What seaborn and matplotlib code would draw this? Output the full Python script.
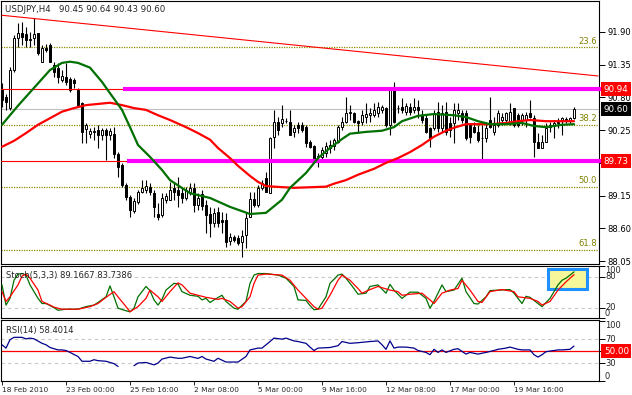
import numpy as np
import seaborn as sns
import matplotlib
matplotlib.use("Agg")
import matplotlib.pyplot as plt
import matplotlib.patches as patches
import matplotlib.transforms as mtransforms

# USDJPY H4 bars, 18 Feb - 22 Mar 2010
opens = [90.93, 90.80, 90.62, 91.26, 91.80, 91.88, 91.87, 91.77, 91.80, 91.88,
         91.40, 91.63, 91.68, 91.35, 91.29, 91.09, 91.14, 91.11, 91.09, 90.93,
         90.71, 90.27, 90.19, 90.22, 90.26, 90.17, 90.26, 90.17, 90.19, 89.85,
         89.66, 89.33, 89.13, 88.89, 89.04, 89.21, 89.25, 89.30, 89.20, 88.84,
         88.82, 89.08, 89.08, 89.28, 89.25, 89.19, 89.11, 89.21, 89.28, 88.99,
         89.18, 88.99, 88.84, 88.69, 88.87, 88.74, 88.74, 88.39, 88.46, 88.44,
         88.37, 88.49, 88.79, 89.09, 88.99, 89.28, 89.45, 89.19, 90.14, 90.39,
         90.37, 90.41, 90.39, 90.22, 90.34, 90.34, 90.30, 90.05, 89.99, 89.79,
         89.80, 89.87, 89.95, 89.99, 90.05, 90.30, 90.39, 90.54, 90.54, 90.41,
         90.39, 90.47, 90.51, 90.51, 90.54, 90.59, 90.62, 90.34, 90.93, 90.62,
         90.64, 90.56, 90.64, 90.59, 90.64, 90.51, 90.46, 90.29, 90.29, 90.56,
         90.29, 90.56, 90.37, 90.37, 90.54, 90.54, 90.54, 90.34, 90.30, 90.22,
         90.12, 90.12, 90.42, 90.22, 90.34, 90.42, 90.42, 90.39, 90.62, 90.51,
         90.42, 90.42, 90.54, 90.46, 90.05, 89.95, 90.05, 90.30, 90.34, 90.37,
         90.42, 90.44, 90.41, 90.45]
highs = [91.04, 90.85, 91.31, 91.85, 92.05, 92.07, 91.98, 91.90, 92.14, 91.88,
         91.68, 91.70, 91.72, 91.40, 91.38, 91.26, 91.38, 91.14, 91.13, 90.96,
         90.73, 90.37, 90.29, 90.30, 90.34, 90.29, 90.29, 90.29, 90.30, 89.88,
         89.70, 89.36, 89.16, 89.11, 89.24, 89.41, 89.41, 89.36, 89.24, 89.03,
         89.20, 89.20, 89.38, 89.36, 89.46, 89.28, 89.30, 89.36, 89.36, 89.20,
         89.24, 89.08, 88.96, 88.94, 88.96, 88.87, 88.86, 88.52, 88.49, 88.49,
         88.57, 88.86, 89.21, 89.21, 89.33, 89.41, 89.55, 90.14, 90.59, 90.47,
         90.67, 90.45, 90.59, 90.34, 90.39, 90.39, 90.34, 90.08, 90.00, 89.87,
         89.97, 90.05, 90.08, 90.12, 90.34, 90.47, 90.81, 90.67, 90.55, 90.42,
         90.59, 90.71, 90.62, 90.71, 90.72, 90.67, 90.64, 90.96, 91.06, 90.67,
         90.79, 90.71, 90.71, 90.79, 90.76, 90.59, 90.50, 90.30, 90.59, 90.72,
         90.67, 90.72, 90.47, 90.71, 90.71, 90.59, 90.59, 90.37, 90.39, 90.34,
         90.34, 90.37, 90.81, 90.47, 90.59, 90.54, 90.55, 90.71, 90.62, 90.54,
         90.54, 90.55, 90.76, 90.50, 90.20, 90.17, 90.37, 90.39, 90.42, 90.45,
         90.47, 90.47, 90.47, 90.64]
lows = [90.64, 90.59, 90.59, 91.23, 91.65, 91.68, 91.65, 91.65, 91.68, 91.51,
        91.40, 91.56, 91.40, 91.14, 91.04, 91.06, 91.01, 90.89, 90.96, 90.64,
        90.03, 90.03, 90.12, 90.08, 89.95, 90.08, 89.75, 90.08, 89.78, 89.47,
        89.30, 89.08, 88.79, 88.86, 89.01, 89.20, 89.20, 89.16, 88.79, 88.74,
        88.79, 89.03, 89.08, 89.08, 88.96, 89.03, 89.08, 89.16, 88.87, 88.91,
        88.91, 88.52, 88.46, 88.62, 88.62, 88.52, 88.29, 88.32, 88.37, 88.32,
        88.12, 88.27, 88.79, 88.96, 88.96, 89.24, 89.21, 89.19, 89.95, 90.17,
        90.30, 90.37, 90.17, 90.14, 90.20, 90.22, 89.97, 89.95, 89.70, 89.63,
        89.75, 89.80, 89.87, 89.92, 90.03, 90.25, 90.37, 90.42, 90.37, 90.20,
        90.34, 90.37, 90.39, 90.47, 90.47, 90.54, 90.30, 90.17, 90.37, 90.54,
        90.54, 90.50, 90.50, 90.54, 90.45, 90.37, 90.20, 89.97, 90.25, 90.22,
        90.22, 90.17, 90.14, 90.03, 90.42, 90.37, 90.08, 90.03, 90.20, 90.05,
        89.75, 90.05, 90.29, 90.17, 90.30, 90.34, 90.37, 90.34, 90.30, 90.30,
        90.34, 90.30, 90.45, 89.80, 89.95, 89.95, 90.05, 90.22, 90.12, 90.29,
        90.17, 90.37, 90.37, 90.43]
closes = [90.76, 90.73, 91.26, 91.80, 91.88, 91.82, 91.76, 91.78, 91.86, 91.55,
          91.63, 91.60, 91.40, 91.23, 91.14, 91.16, 91.06, 90.93, 91.04, 90.67,
          90.22, 90.34, 90.24, 90.24, 90.16, 90.26, 90.16, 90.24, 89.85, 89.63,
          89.33, 89.13, 88.91, 89.06, 89.21, 89.28, 89.31, 89.21, 88.96, 88.79,
          89.11, 89.14, 89.25, 89.21, 89.16, 89.11, 89.24, 89.28, 88.99, 89.11,
          88.98, 88.82, 88.69, 88.86, 88.69, 88.71, 88.37, 88.46, 88.41, 88.36,
          88.47, 88.78, 89.09, 88.99, 89.28, 89.36, 89.21, 90.12, 90.39, 90.25,
          90.44, 90.40, 90.17, 90.29, 90.29, 90.25, 90.03, 89.97, 89.75, 89.82,
          89.92, 89.99, 90.00, 90.08, 90.30, 90.39, 90.54, 90.56, 90.39, 90.37,
          90.51, 90.52, 90.54, 90.59, 90.64, 90.64, 90.34, 90.93, 90.39, 90.62,
          90.59, 90.66, 90.56, 90.64, 90.59, 90.42, 90.22, 90.12, 90.54, 90.29,
          90.54, 90.22, 90.25, 90.59, 90.59, 90.42, 90.12, 90.14, 90.22, 90.08,
          90.12, 90.29, 90.30, 90.34, 90.54, 90.47, 90.54, 90.56, 90.34, 90.34,
          90.51, 90.51, 90.47, 90.05, 89.95, 90.05, 90.29, 90.34, 90.37, 90.39,
          90.46, 90.41, 90.46, 90.60]

# moving averages (sampled along the curve)
ma_fast_idx = [0, 4, 8, 12, 15, 17, 19, 22, 25, 27, 30, 32, 34, 37, 40, 42, 47, 52, 57, 62,
               66, 70, 72, 76, 79, 82, 85, 87, 91, 95, 98, 100, 104, 108, 113, 116, 119, 122, 126, 130,
               133, 136, 140, 143]
ma_fast = [90.34, 90.66, 90.96, 91.26, 91.38, 91.40, 91.38, 91.30, 91.06, 90.87,
           90.59, 90.30, 90.00, 89.80, 89.58, 89.41, 89.19, 89.11, 88.96, 88.84,
           88.86, 89.08, 89.28, 89.53, 89.78, 89.95, 90.10, 90.19, 90.22, 90.24,
           90.30, 90.40, 90.49, 90.52, 90.50, 90.47, 90.40, 90.35, 90.35, 90.37,
           90.32, 90.30, 90.34, 90.35]
ma_slow_idx = [0, 3, 6, 9, 12, 15, 18, 21, 24, 27, 30, 33, 36, 39, 42, 46, 49, 52, 54, 57,
               59, 62, 64, 66, 68, 73, 81, 83, 86, 89, 93, 96, 99, 102, 105, 108, 111, 113, 116, 122,
               126, 129, 132, 136, 143]
ma_slow = [89.97, 90.07, 90.20, 90.34, 90.45, 90.56, 90.62, 90.67, 90.69, 90.71,
           90.67, 90.62, 90.59, 90.50, 90.42, 90.30, 90.20, 90.09, 89.95, 89.78,
           89.65, 89.48, 89.38, 89.31, 89.30, 89.28, 89.30, 89.35, 89.41, 89.50,
           89.60, 89.70, 89.78, 89.88, 90.00, 90.14, 90.24, 90.29, 90.35, 90.35,
           90.37, 90.40, 90.42, 90.40, 90.40]

# chart objects
sr_levels = [90.94, 89.73]
sr_start = [30.25, 31.25]
trend_x = [0, 149]
trend_y = [92.18, 91.16]
fib_labels = ["23.6", "38.2", "50.0", "61.8"]
fib_prices = [91.64, 90.34, 89.29, 88.24]
bid = 90.60
price_ticks = [88.05, 88.60, 89.15, 89.70, 90.25, 90.80, 91.35, 91.90]

# Stoch(5,3,3)
stoch_k_idx = [0, 1, 2, 3, 4, 5, 6, 7, 9, 10, 11, 13, 14, 16, 19, 21, 23, 24, 26, 27,
               28, 29, 31, 32, 33, 34, 36, 37, 38, 39, 40, 41, 43, 44, 45, 47, 49, 50, 51, 52,
               53, 55, 56, 58, 59, 61, 62, 63, 64, 66, 69, 71, 73, 74, 76, 77, 78, 79, 81, 82,
               84, 85, 86, 88, 89, 91, 92, 94, 96, 97, 98, 100, 102, 104, 106, 107, 108, 110, 111, 113,
               115, 116, 118, 119, 121, 122, 124, 127, 128, 130, 131, 132, 134, 135, 137, 139, 140, 141, 142, 143]
stoch_k = [64, 25, 38, 73, 85, 86, 83, 64, 38, 28, 28, 20, 15, 17, 17, 22, 25, 30, 41, 62,
           41, 19, 14, 12, 19, 41, 61, 53, 35, 25, 36, 54, 67, 66, 51, 44, 42, 35, 38, 30,
           35, 44, 32, 19, 17, 32, 67, 83, 86, 86, 83, 77, 61, 35, 34, 24, 16, 17, 41, 67,
           83, 85, 77, 57, 46, 48, 61, 64, 48, 65, 54, 38, 50, 50, 38, 19, 32, 64, 51, 54,
           77, 51, 28, 27, 41, 53, 54, 55, 48, 28, 42, 40, 28, 22, 38, 64, 73, 77, 83, 89.17]
stoch_d_idx = [0, 1, 2, 4, 5, 6, 7, 9, 10, 12, 13, 15, 19, 22, 24, 26, 28, 29, 31, 32,
               34, 36, 37, 39, 40, 42, 44, 45, 47, 49, 51, 54, 55, 57, 59, 60, 62, 63, 64, 66,
               70, 72, 74, 76, 78, 79, 80, 82, 84, 85, 87, 89, 90, 92, 94, 97, 99, 100, 102, 105,
               107, 108, 110, 112, 114, 115, 117, 119, 120, 122, 125, 128, 129, 132, 134, 135, 137, 139, 141, 143]
stoch_d = [51, 32, 41, 64, 81, 85, 77, 54, 32, 25, 21, 17, 17, 22, 28, 40, 51, 41, 22, 12,
           22, 38, 54, 41, 32, 51, 68, 64, 48, 44, 40, 36, 38, 32, 19, 22, 41, 67, 83, 85,
           83, 73, 54, 38, 22, 17, 19, 44, 73, 83, 73, 57, 48, 55, 61, 54, 51, 44, 46, 48,
           35, 28, 48, 54, 57, 73, 54, 32, 30, 51, 55, 51, 41, 38, 32, 25, 32, 54, 70, 83.74]
stoch_levels = [0, 20, 80, 100]
box_bars = [136.4, 146.2]
box_vals = [56.7, 94.3]

# RSI(14), blank stretch where the line is missing on the chart
rsi_idx = [0, 1, 2, 3, 5, 6, 7, 8, 10, 11, 12, 14, 15, 16, 17, 19, 20, 22, 23, 24,
           26, 28, 29, 31, 33, 34, 36, 38, 39, 40, 42, 44, 45, 47, 49, 50, 51, 53, 54, 56,
           58, 59, 61, 62, 64, 65, 67, 68, 70, 71, 73, 74, 76, 77, 78, 79, 82, 84, 85, 87,
           89, 92, 94, 95, 96, 97, 98, 99, 101, 103, 104, 106, 107, 108, 109, 110, 111, 113, 114, 116,
           117, 119, 121, 123, 124, 126, 127, 129, 130, 132, 133, 134, 135, 136, 139, 140, 142, 143]
rsi = [60.6, 55, 69, 73, 73, 70.5, 71.7, 70.5, 63, 60.6, 56, 52, 52, 51, 47.8, 41, 33, 33, 35.6, 34,
       33, 29, 24.4, np.nan, 25.6, 30, 31, 27, 30, 36.7, 40, 38, 38, 41, 37.8, 41, 36.7, 33, 38, 31.7,
       31.7, 31.7, 41, 52, 55, 55, 66, 71.7, 70, 71.7, 67, 66, 63, 56.7, 51, 55, 56, 59, 66, 63,
       64, 66, 67, 60.6, 53, 67, 55, 56.7, 56.7, 55, 51, 47.8, 44, 53, 47.8, 52, 47.8, 53, 54, 45,
       47.8, 45, 47.8, 51, 53, 55, 56.7, 53, 52, 52, 44, 40, 44, 49, 52, 52, 53, 58.4]
rsi_levels = [0, 30, 70, 100]

date_bars = [0, 16, 32, 48, 64, 80, 96, 112, 128]
date_labels = ["18 Feb 2010", "23 Feb 00:00", "25 Feb 16:00", "2 Mar 08:00", "5 Mar 00:00",
               "9 Mar 16:00", "12 Mar 08:00", "17 Mar 00:00", "19 Mar 16:00"]

sns.set_style("white")
plt.rcParams['font.family'] = ['DejaVu Sans']
FS = 6

W, H = 632, 395
fig = plt.figure(figsize=(W / 100, H / 100), dpi=100)
fig.patch.set_facecolor('white')

def rect(x0, y0, x1, y1):
    return [x0 / W, 1 - y1 / H, (x1 - x0) / W, (y1 - y0) / H]

ax = fig.add_axes(rect(1, 1, 599, 264))
ax_st = fig.add_axes(rect(1, 266, 599, 318))
ax_rsi = fig.add_axes(rect(1, 320, 599, 381))
XL = (-0.25, 149.25)

for a in (ax, ax_st, ax_rsi):
    a.set_xlim(*XL)
    for s in a.spines.values():
        s.set_color('black')
        s.set_linewidth(0.8)
    a.yaxis.tick_right()
    a.tick_params(axis='y', direction='out', length=4, width=0.7, pad=2,
                  labelsize=FS, colors='black')
    a.tick_params(axis='x', bottom=False, labelbottom=False)

# ---- main price panel
o = np.array(opens); c = np.array(closes)
bars = np.arange(len(c))
up = c >= o
ax.vlines(bars, lows, highs, color='black', linewidth=0.8, zorder=2)
ax.bar(bars, np.abs(c - o), bottom=np.minimum(o, c), width=0.6,
       color=np.where(up, 'white', 'black'), edgecolor='black', linewidth=0.7, zorder=3)

for p in fib_prices:
    ax.axhline(p, color='#8c8c00', linestyle=(0, (1, 1)), linewidth=0.9, zorder=1)
for lab, p in zip(fib_labels, fib_prices):
    ax.text(148.7, p + 0.03, lab, ha='right', va='bottom', fontsize=FS, color='#808000')

ax.axhline(bid, color='#c0c0c0', linewidth=0.8, zorder=1)
ax.plot(trend_x, trend_y, color='red', linewidth=0.8, zorder=4)
for lvl, x0 in zip(sr_levels, sr_start):
    ax.axhline(lvl, color='red', linewidth=0.8, zorder=4)
    ax.hlines(lvl, x0, XL[1] + 1, color='#ff00ff', linewidth=3, zorder=4, clip_on=False)

sns.lineplot(x=ma_slow_idx, y=ma_slow, ax=ax, color='red', linewidth=1.6, zorder=5)
sns.lineplot(x=ma_fast_idx, y=ma_fast, ax=ax, color='#007000', linewidth=1.6, zorder=5)

ax.set_ylim(88.00, 92.42)
ax.set_yticks(price_ticks)
# the 89.70 label sits under the 89.73 marker box on the chart
ax.set_yticklabels(['' if abs(t - 89.70) < 1e-6 else '%.2f' % t for t in price_ticks])
ax.set_xlabel(''); ax.set_ylabel('')

bt = mtransforms.blended_transform_factory(ax.transAxes, ax.transData)
box_kw = dict(boxstyle='square,pad=0.28', ec='none')
for lvl in sr_levels:
    ax.text(1.008, lvl, '%.2f' % lvl, transform=bt, ha='left', va='center', fontsize=6.3,
            color='white', bbox=dict(fc='red', **box_kw), clip_on=False, zorder=10)
ax.text(1.008, bid, '%.2f' % bid, transform=bt, ha='left', va='center', fontsize=6.3,
        color='white', bbox=dict(fc='black', **box_kw), clip_on=False, zorder=10)

fig.text(5 / W, 1 - 9 / H, 'USDJPY,H4   90.45 90.64 90.43 90.60', fontsize=6.2,
         va='center', ha='left')

# ---- stochastic panel
ax_st.add_patch(patches.Rectangle((box_bars[0], box_vals[0]), box_bars[1] - box_bars[0],
                                  box_vals[1] - box_vals[0], fc='#f6f69a', ec='#1e90ff',
                                  lw=2.2, zorder=1))
for lvl in (20, 80):
    ax_st.axhline(lvl, color='#c8c8c8', linestyle=(0, (3, 3)), linewidth=0.8, zorder=0)
sns.lineplot(x=stoch_k_idx, y=stoch_k, ax=ax_st, color='#007000', linewidth=0.9, zorder=3)
sns.lineplot(x=stoch_d_idx, y=stoch_d, ax=ax_st, color='red', linewidth=0.9, zorder=3)
ax_st.set_ylim(0, 100.6)
ax_st.set_yticks(stoch_levels)
ax_st.set_yticklabels([])
bt_st = mtransforms.blended_transform_factory(ax_st.transAxes, ax_st.transData)
va_map = {0: 'bottom', 100: 'top'}
for lvl in stoch_levels:
    ax_st.text(1.01, lvl, str(lvl), transform=bt_st, ha='left', va=va_map.get(lvl, 'center'),
               fontsize=FS, clip_on=False)
ax_st.set_xlabel(''); ax_st.set_ylabel('')
ax_st.text(5 / 598, 83, 'Stoch(5,3,3) 89.1667 83.7386', transform=bt_st, fontsize=FS,
           va='center', ha='left')

# ---- RSI panel
for lvl in (30, 70):
    ax_rsi.axhline(lvl, color='#c8c8c8', linestyle=(0, (3, 3)), linewidth=0.8, zorder=0)
ax_rsi.axhline(50, color='red', linewidth=0.9, zorder=2)
ax_rsi.plot(rsi_idx, rsi, color='#00008b', linewidth=0.9, zorder=3)
ax_rsi.set_ylim(0.5, 102)
ax_rsi.set_yticks(rsi_levels + [50])
ax_rsi.set_yticklabels([])
bt_r = mtransforms.blended_transform_factory(ax_rsi.transAxes, ax_rsi.transData)
for lvl in rsi_levels:
    ax_rsi.text(1.01, lvl, str(lvl), transform=bt_r, ha='left', va=va_map.get(lvl, 'center'),
                fontsize=FS, clip_on=False)
ax_rsi.text(1.008, 50, '50.00', transform=bt_r, ha='left', va='center', fontsize=6.3,
            color='white', bbox=dict(fc='red', **box_kw), clip_on=False, zorder=10)
ax_rsi.text(5 / 598, 84, 'RSI(14) 58.4014', transform=bt_r, fontsize=FS, va='center', ha='left')

ax_rsi.tick_params(axis='x', bottom=True, labelbottom=True, direction='out', length=3,
                   width=0.7, pad=1, labelsize=5.3)
ax_rsi.set_xticks(date_bars)
ax_rsi.set_xticklabels(date_labels, ha='left')

fig.savefig('out.png', dpi=100, facecolor='white')
